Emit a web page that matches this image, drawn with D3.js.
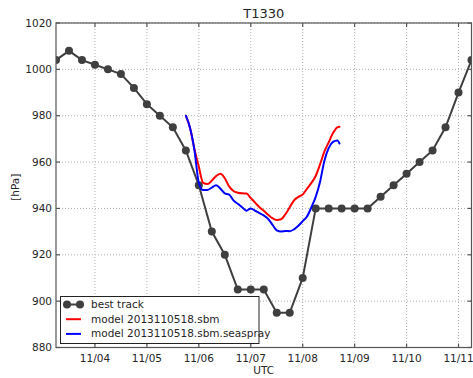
<!DOCTYPE html>
<html>
<head>
<meta charset="utf-8">
<script src="https://cdn.jsdelivr.net/npm/d3@7"></script>
<style>
  body { margin: 0; background: #fff; }
  svg { display: block; font-family: "DejaVu Sans", sans-serif; }
</style>
</head>
<body>
<div id="chart"></div>
<script>
// Data
const title = "T1330";
const bestTrackTimes = [
  "11/03 06", "11/03 12", "11/03 18",
  "11/04 00", "11/04 06", "11/04 12", "11/04 18",
  "11/05 00", "11/05 06", "11/05 12", "11/05 18",
  "11/06 00", "11/06 06", "11/06 12", "11/06 18",
  "11/07 00", "11/07 06", "11/07 12", "11/07 18",
  "11/08 00", "11/08 06", "11/08 12", "11/08 18",
  "11/09 00", "11/09 06", "11/09 12", "11/09 18",
  "11/10 00", "11/10 06", "11/10 12", "11/10 18",
  "11/11 00", "11/11 06"
];
const bestTrack = [
  1004, 1008, 1004,
  1002, 1000, 998, 992,
  985, 980, 975, 965,
  950, 930, 920, 905,
  905, 905, 895, 895,
  910, 940, 940, 940,
  940, 940, 945, 950,
  955, 960, 965, 975,
  990, 1004
];
const modelInit = "11/05 18";
const modelHours = [0, 2, 4, 6, 8, 10, 12, 14, 16, 18, 20, 22, 24, 26, 28, 30, 32, 34,
  36, 38, 40, 42, 44, 46, 48, 50, 52, 54, 56, 58, 60, 62, 64, 66, 68, 70, 71];
const modelSbm = [980, 974.5, 965.5, 958, 951, 950.5, 952, 954, 955, 953, 949.5, 947.5,
  946.8, 946.5, 946.4, 944.5, 942.5, 940.5, 939, 937.3, 935.8, 935, 935.3, 937.5,
  940.5, 943.5, 945, 946, 948.5, 951, 954, 959, 964.5, 968.5, 972.5, 975, 975.2];
const modelSeaspray = [980, 974.5, 965, 951, 947.9, 948, 949, 950, 948.5, 946.5, 946, 943.5,
  942, 940.5, 939, 940, 939, 938, 937, 935.5, 933, 930.5, 930, 930.3,
  930.2, 931, 932.5, 934.5, 936.5, 940.5, 945, 951.4, 960.5, 966, 968.7, 969.3, 968];
const yTicks = [880, 900, 920, 940, 960, 980, 1000, 1020];
const xTickDays = ["11/04", "11/05", "11/06", "11/07", "11/08", "11/09", "11/10", "11/11"];
const legendLabels = ["best track", "model 2013110518.sbm", "model 2013110518.sbm.seaspray"];

const colors = { best: "#3f3f3f", sbm: "#ff0000", seaspray: "#0000ff" };
const W = 473, H = 378;
const plot = { left: 56, right: 471.5, top: 23, bottom: 347.5 };

const parseT = s => new Date(Date.UTC(2013, +s.slice(0, 2) - 1, +s.slice(3, 5), +(s.slice(6) || 0)));

const svg = d3.select("#chart").append("svg")
  .attr("width", W).attr("height", H);

const x = d3.scaleUtc()
  .domain([parseT("11/03 06"), parseT("11/11 06")])
  .range([plot.left, plot.right]);
const y = d3.scaleLinear()
  .domain([880, 1020])
  .range([plot.bottom, plot.top]);

const xTicks = xTickDays.map(d => parseT(d + " 00"));

// Grid
const grid = svg.append("g")
  .attr("stroke", "#b0b0b0").attr("stroke-width", 1).attr("stroke-dasharray", "1,2");
grid.selectAll(".gx").data(xTicks).enter().append("line")
  .attr("x1", d => x(d)).attr("x2", d => x(d))
  .attr("y1", plot.top).attr("y2", plot.bottom);
grid.selectAll(".gy").data(yTicks).enter().append("line")
  .attr("x1", plot.left).attr("x2", plot.right)
  .attr("y1", d => y(d)).attr("y2", d => y(d));

// Clip
svg.append("clipPath").attr("id", "clip").append("rect")
  .attr("x", plot.left).attr("y", plot.top)
  .attr("width", plot.right - plot.left).attr("height", plot.bottom - plot.top);
const g = svg.append("g").attr("clip-path", "url(#clip)");

// Best track
const bt = bestTrackTimes.map((t, i) => ({ t: parseT(t), v: bestTrack[i] }));
const line = d3.line().x(d => x(d.t)).y(d => y(d.v));
g.append("path").datum(bt)
  .attr("fill", "none").attr("stroke", colors.best).attr("stroke-width", 2)
  .attr("d", line);
g.selectAll(".bt").data(bt).enter().append("circle")
  .attr("cx", d => x(d.t)).attr("cy", d => y(d.v)).attr("r", 4)
  .attr("fill", colors.best);

// Model runs
const t0 = parseT(modelInit);
const toSeries = vals => modelHours.map((h, i) => ({ t: new Date(+t0 + h * 3600e3), v: vals[i] }));
const smooth = d3.line().x(d => x(d.t)).y(d => y(d.v)).curve(d3.curveMonotoneX);
[[modelSbm, colors.sbm], [modelSeaspray, colors.seaspray]].forEach(([vals, c]) => {
  g.append("path").datum(toSeries(vals))
    .attr("fill", "none").attr("stroke", c).attr("stroke-width", 2)
    .attr("stroke-linejoin", "round").attr("stroke-linecap", "round")
    .attr("d", smooth);
});

// Frame and inward ticks
const frame = svg.append("g").attr("stroke", "#555").attr("stroke-width", 1.2);
frame.append("rect")
  .attr("x", plot.left).attr("y", plot.top)
  .attr("width", plot.right - plot.left).attr("height", plot.bottom - plot.top)
  .attr("fill", "none");
xTicks.forEach(d => {
  frame.append("line").attr("x1", x(d)).attr("x2", x(d)).attr("y1", plot.bottom).attr("y2", plot.bottom - 4);
  frame.append("line").attr("x1", x(d)).attr("x2", x(d)).attr("y1", plot.top).attr("y2", plot.top + 4);
});
yTicks.forEach(d => {
  frame.append("line").attr("x1", plot.left).attr("x2", plot.left + 4).attr("y1", y(d)).attr("y2", y(d));
  frame.append("line").attr("x1", plot.right).attr("x2", plot.right - 4).attr("y1", y(d)).attr("y2", y(d));
});

// Tick labels
const txt = "#262626";
svg.append("g").selectAll("text").data(yTicks).enter().append("text")
  .attr("x", plot.left - 4).attr("y", d => y(d) + 3.5)
  .attr("text-anchor", "end").attr("font-size", 10.5).attr("fill", txt)
  .text(d => d);
svg.append("g").selectAll("text").data(xTicks).enter().append("text")
  .attr("x", d => x(d)).attr("y", plot.bottom + 14)
  .attr("text-anchor", "middle").attr("font-size", 10.5).attr("fill", txt)
  .text(d => d3.utcFormat("%m/%d")(d));

// Titles
svg.append("text").attr("x", (plot.left + plot.right) / 2).attr("y", 18)
  .attr("text-anchor", "middle").attr("font-size", 13).attr("fill", txt).text(title);
svg.append("text").attr("x", (plot.left + plot.right) / 2).attr("y", 374)
  .attr("text-anchor", "middle").attr("font-size", 10.5).attr("fill", txt).text("UTC");
svg.append("text").attr("transform", `translate(19,${(plot.top + plot.bottom) / 2 + 2}) rotate(-90)`)
  .attr("text-anchor", "middle").attr("font-size", 10.5).attr("fill", txt).text("[hPa]");

// Legend
const lg = svg.append("g");
lg.append("rect").attr("x", 60.5).attr("y", 296.5).attr("width", 198.5).attr("height", 47)
  .attr("fill", "#fff").attr("stroke", "#222").attr("stroke-width", 1);
const lgColors = [colors.best, colors.sbm, colors.seaspray];
legendLabels.forEach((lab, i) => {
  const ly = 304.5 + i * 14.7;
  lg.append("line").attr("x1", 66).attr("x2", 81).attr("y1", ly).attr("y2", ly)
    .attr("stroke", lgColors[i]).attr("stroke-width", 2);
  if (i === 0) {
    [67, 80].forEach(cx => lg.append("circle").attr("cx", cx).attr("cy", ly).attr("r", 4).attr("fill", colors.best));
  }
  lg.append("text").attr("x", 91).attr("y", ly + 3.5)
    .attr("font-size", 10.5).attr("fill", txt).text(lab);
});
</script>
</body>
</html>
